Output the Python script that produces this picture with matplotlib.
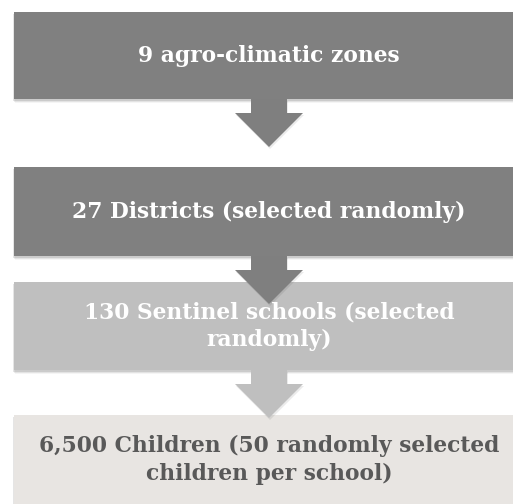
import matplotlib
matplotlib.use("Agg")
import matplotlib.pyplot as plt
from matplotlib.patches import Rectangle, Polygon

# flowchart content
labels = [
    "9 agro-climatic zones",
    "27 Districts (selected randomly)",
    "130 Sentinel schools (selected\nrandomly)",
    "6,500 Children (50 randomly selected\nchildren per school)",
]
box_colors = ["#808080", "#808080", "#bfbfbf", "#e8e5e2"]
text_colors = ["white", "white", "white", "#595959"]
arrow_colors = ["#7f7f7f", "#7f7f7f", "#bfbfbf"]

# layout (pixels, y downwards)
box_top = [12, 167, 282, 415]
box_h = [87, 89, 88, 100]
box_x0, box_x1 = 14, 520
arrow_cx = 269
shaft_w, head_w, head_h = 36, 68, 34

fig = plt.figure(figsize=(5.13, 5.04), dpi=100)
ax = fig.add_axes([0, 0, 1, 1])
ax.set_xlim(0, 513)
ax.set_ylim(504, 0)
ax.axis("off")

text_y = [56, 212, 326, 460]
for i, lab in enumerate(labels):
    y0 = box_top[i]
    h = box_h[i]
    # soft shadow
    for k, a in enumerate([0.10, 0.07, 0.04]):
        ax.add_patch(Rectangle((box_x0 - 1 + k, y0 + 2 + k), box_x1 - box_x0, h,
                               facecolor="black", alpha=a, edgecolor="none", zorder=1))
    ax.add_patch(Rectangle((box_x0, y0), box_x1 - box_x0, h,
                           facecolor=box_colors[i], edgecolor="none", zorder=2))
    ax.text(269, text_y[i], lab, ha="center", va="center", color=text_colors[i],
            fontsize=15.7, fontweight="bold", family="DejaVu Serif",
            linespacing=1.3, zorder=5)

for i in range(3):
    start = box_top[i] + box_h[i]
    tip = start + 48
    hs = tip - head_h
    pts = [(arrow_cx - shaft_w / 2, start), (arrow_cx + shaft_w / 2, start),
           (arrow_cx + shaft_w / 2, hs), (arrow_cx + head_w / 2, hs),
           (arrow_cx, tip), (arrow_cx - head_w / 2, hs),
           (arrow_cx - shaft_w / 2, hs)]
    ax.add_patch(Polygon([(x + 1, y + 2) for x, y in pts], closed=True,
                         facecolor="black", alpha=0.08, edgecolor="none", zorder=3))
    ax.add_patch(Polygon(pts, closed=True, facecolor=arrow_colors[i],
                         edgecolor="none", zorder=4))

fig.savefig("out.png", dpi=100, facecolor="white")
